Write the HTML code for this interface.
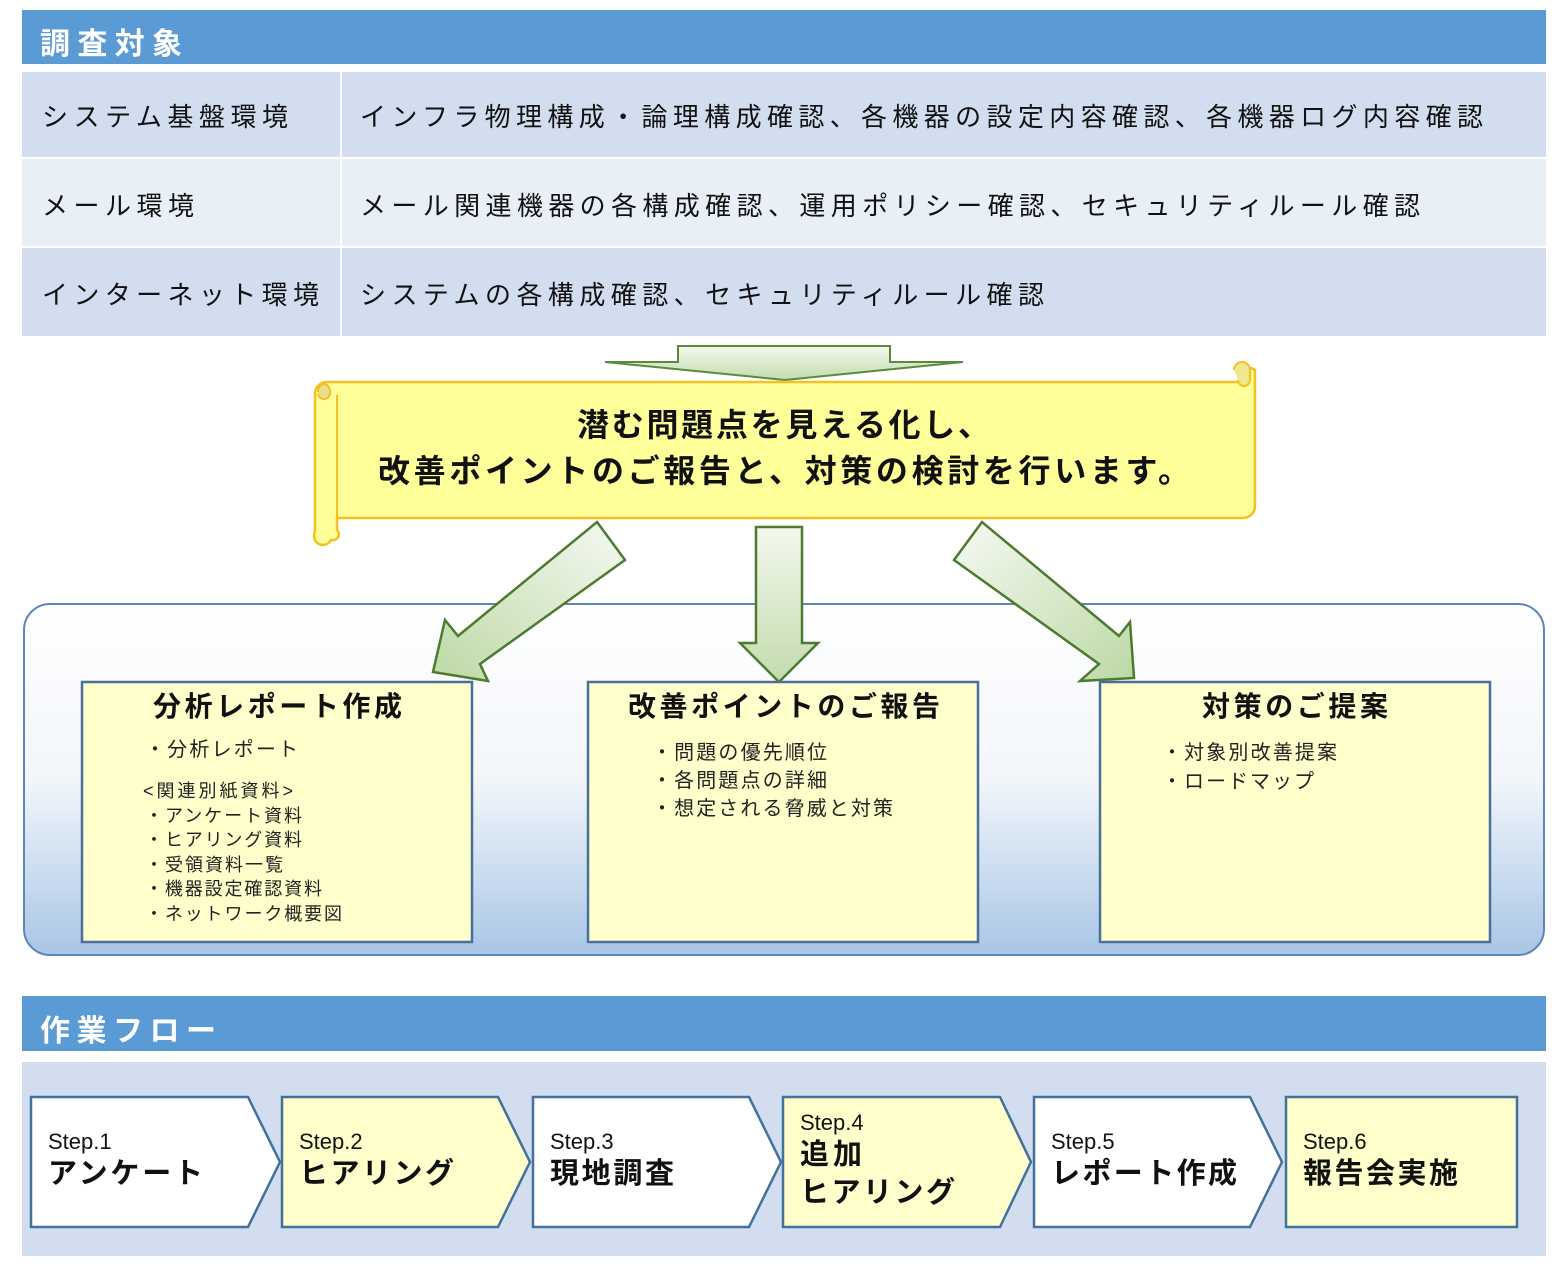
<!DOCTYPE html>
<html><head><meta charset="utf-8"><style>
html,body{margin:0;padding:0;background:#fff;}
svg{display:block;font-family:"Liberation Sans","Noto Sans CJK JP",sans-serif;}
</style></head><body>
<svg width="1556" height="1267" viewBox="0 0 1556 1267" xmlns="http://www.w3.org/2000/svg">
<defs>
<linearGradient id="ga" x1="0" y1="0" x2="0" y2="1"><stop offset="0" stop-color="#f4f8ee"/><stop offset="1" stop-color="#c2dcae"/></linearGradient>
<linearGradient id="gl" x1="1" y1="0" x2="0" y2="1"><stop offset="0" stop-color="#f6f9f2"/><stop offset="1" stop-color="#bcd9a6"/></linearGradient>
<linearGradient id="gr" x1="0" y1="0" x2="1" y2="1"><stop offset="0" stop-color="#f6f9f2"/><stop offset="1" stop-color="#bcd9a6"/></linearGradient>
<linearGradient id="gb" x1="0" y1="0" x2="0" y2="1"><stop offset="0" stop-color="#ffffff"/><stop offset="0.5" stop-color="#f2f6fb"/><stop offset="1" stop-color="#a9c6e6"/></linearGradient>
</defs>

<!-- header 1 -->
<rect x="22" y="10" width="1524" height="54" fill="#5b9bd5"/>
<text x="40" y="54" font-size="30" font-weight="bold" fill="#fff" textLength="142">調査対象</text>

<!-- table -->
<rect x="22" y="72" width="1524" height="85" fill="#d2deef"/>
<rect x="22" y="159" width="1524" height="87" fill="#e9eff7"/>
<rect x="22" y="248" width="1524" height="88" fill="#d2deef"/>
<rect x="340" y="72" width="2" height="264" fill="#fff"/>
<g font-size="26" fill="#111">
<text x="42" y="126" textLength="246">システム基盤環境</text>
<text x="360" y="126" textLength="1123">インフラ物理構成・論理構成確認、各機器の設定内容確認、各機器ログ内容確認</text>
<text x="42" y="215" textLength="152">メール環境</text>
<text x="360" y="215" textLength="1060">メール関連機器の各構成確認、運用ポリシー確認、セキュリティルール確認</text>
<text x="42" y="304" textLength="277">インターネット環境</text>
<text x="360" y="304" textLength="684">システムの各構成確認、セキュリティルール確認</text>
</g>

<!-- down arrow -->
<polygon points="678,346 890,346 890,362 963,362 785,380 605,362 678,362" fill="url(#ga)" stroke="#5a8a3a" stroke-width="2"/>

<!-- scroll -->
<path d="M326,382 L1243,382 L1243,370 a10,10 0 0 1 12,0 L1255,506 a12,12 0 0 1 -12,12 L337,518 L337,530 a6,6 0 0 1 -6,10 a8,8 0 0 1 -16,-8 L315,395 a12,12 0 0 1 11,-13 Z" fill="#ffff99" stroke="#f5c020" stroke-width="2.5"/>
<path d="M1243,382 L1243,370" stroke="#f5c020" stroke-width="2" fill="none"/>
<path d="M1234,370 a8,8 0 0 1 16,0 v10 a6,6 0 0 1 -12,0" fill="#f0e890" stroke="#f5c020" stroke-width="2"/>
<path d="M318,392 a6,8 0 0 1 12,0 a6,6 0 0 1 -12,2" fill="#e8e090" stroke="#f5c020" stroke-width="2"/>
<line x1="337" y1="395" x2="337" y2="518" stroke="#f5c020" stroke-width="2"/>
<g font-size="32" font-weight="bold" fill="#111" text-anchor="start">
<text x="577" y="436" textLength="413">潜む問題点を見える化し、</text>
<text x="378" y="482" textLength="812">改善ポイントのご報告と、対策の検討を行います。</text>
</g>

<!-- big rounded box -->
<rect x="24" y="604" width="1520" height="351" rx="26" fill="url(#gb)" stroke="#5a86b8" stroke-width="2"/>

<!-- arrows -->
<polygon points="597,522 625,560 480,664 488,681 433,672 445,620 458,636" fill="url(#gl)" stroke="#4e7a30" stroke-width="2.5"/>
<polygon points="756,527 802,527 802,643 818,643 779,682 740,643 756,643" fill="url(#ga)" stroke="#4e7a30" stroke-width="2.5"/>
<polygon points="982,522 954,560 1099,664 1080,681 1134,678 1130,622 1119,636" fill="url(#gr)" stroke="#4e7a30" stroke-width="2.5"/>

<!-- three boxes -->
<g fill="#ffffcc" stroke="#4a6f9a" stroke-width="2.5">
<rect x="82" y="682" width="390" height="260"/>
<rect x="588" y="682" width="390" height="260"/>
<rect x="1100" y="682" width="390" height="260"/>
</g>
<g font-size="28" font-weight="bold" fill="#111">
<text x="153" y="716" textLength="249">分析レポート作成</text>
<text x="628" y="716" textLength="312">改善ポイントのご報告</text>
<text x="1202" y="716" textLength="186">対策のご提案</text>
</g>
<g font-size="20" fill="#222">
<text x="145" y="756" textLength="153">・分析レポート</text>
<text x="143" y="797" textLength="150" font-size="18">&lt;関連別紙資料&gt;</text>
<text x="145" y="822" font-size="18" textLength="157">・アンケート資料</text>
<text x="145" y="846" font-size="18" textLength="157">・ヒアリング資料</text>
<text x="145" y="871" font-size="18" textLength="138">・受領資料一覧</text>
<text x="145" y="895" font-size="18" textLength="177">・機器設定確認資料</text>
<text x="145" y="920" font-size="18" textLength="197">・ネットワーク概要図</text>
<text x="652" y="759" textLength="175">・問題の優先順位</text>
<text x="652" y="787" textLength="175">・各問題点の詳細</text>
<text x="652" y="815" textLength="241">・想定される脅威と対策</text>
<text x="1162" y="759" textLength="175">・対象別改善提案</text>
<text x="1162" y="788" textLength="152">・ロードマップ</text>
</g>

<!-- header 2 -->
<rect x="22" y="996" width="1524" height="55" fill="#5b9bd5"/>
<text x="40" y="1041" font-size="30" font-weight="bold" fill="#fff" textLength="176">作業フロー</text>

<!-- flow -->
<rect x="22" y="1062" width="1524" height="194" fill="#d2deef"/>
<g stroke="#41719c" stroke-width="2.5">
<polygon points="31,1097 248,1097 280,1162 248,1227 31,1227" fill="#fff"/>
<polygon points="282,1097 498,1097 530,1162 498,1227 282,1227" fill="#ffffcc"/>
<polygon points="533,1097 749,1097 781,1162 749,1227 533,1227" fill="#fff"/>
<polygon points="783,1097 1000,1097 1031,1162 1000,1227 783,1227" fill="#ffffcc"/>
<polygon points="1034,1097 1250,1097 1282,1162 1250,1227 1034,1227" fill="#fff"/>
<polygon points="1286,1097 1517,1097 1517,1227 1286,1227" fill="#ffffcc"/>
</g>
<g fill="#111">
<g font-size="22">
<text x="48" y="1149">Step.1</text>
<text x="299" y="1149">Step.2</text>
<text x="550" y="1149">Step.3</text>
<text x="800" y="1130">Step.4</text>
<text x="1051" y="1149">Step.5</text>
<text x="1303" y="1149">Step.6</text>
</g>
<g font-size="29" font-weight="bold">
<text x="48" y="1183" textLength="155">アンケート</text>
<text x="299" y="1183" textLength="155">ヒアリング</text>
<text x="550" y="1183" textLength="124">現地調査</text>
<text x="800" y="1164" textLength="62">追加</text>
<text x="800" y="1202" textLength="155">ヒアリング</text>
<text x="1051" y="1183" textLength="186">レポート作成</text>
<text x="1303" y="1183" textLength="155">報告会実施</text>
</g>
</g>
</svg>
</body></html>
